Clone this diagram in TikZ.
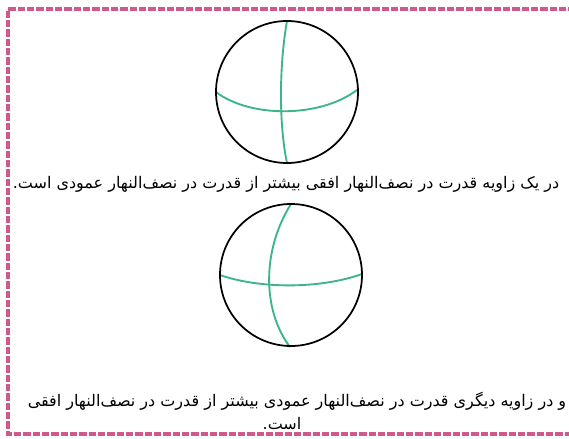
\documentclass[tikz,border=0pt]{standalone}
\usepackage{fontspec}
\TeXXeTstate=1
\newfontfamily\arabicfont[Script=Arabic]{DejaVu Sans}
\definecolor{framepink}{RGB}{206,90,140}
\definecolor{merid}{RGB}{60,180,140}
\tikzset{
  frameline/.style={draw=framepink, line width=2.4pt, dash pattern=on 5.5pt off 1.5pt},
  eyecircle/.style={draw=black, line width=1.3pt},
  meridian/.style={draw=merid, line width=1.4pt},
  caption/.style={font=\arabicfont\fontsize{12}{14}\selectfont, inner sep=0pt, text=black}
}
\begin{document}
\begin{tikzpicture}[x=0.75pt,y=-0.75pt]
\useasboundingbox[fill=white] (0,0) rectangle (569,439);
% frame
\coordinate (tl) at (8,9);
\coordinate (bl) at (8,434);
\coordinate (tr) at (585,9);
\coordinate (br) at (585,434);
\draw[frameline] (tr) -- (tl) -- (bl) -- (br);
% first circle
\coordinate (c1) at (287,92);
\coordinate (c1t) at (287,21);
\coordinate (c1b) at (287,163);
\coordinate (c1l) at (216,92);
\coordinate (c1r) at (357,90);
\draw[meridian] (c1t) .. controls (280,60) and (278,120) .. (c1b);
\draw[meridian] (c1l) .. controls (250,118) and (320,118) .. (c1r);
\draw[eyecircle] (c1) circle[radius=71];
% first caption
\node[caption] (t1) at (286,184) {\beginR در یک زاویه قدرت در نصف‌النهار افقی بیشتر از قدرت در نصف‌النهار عمودی است.\endR};
% second circle
\coordinate (c2) at (291,275);
\coordinate (c2t) at (291,204);
\coordinate (c2b) at (290,347);
\coordinate (c2l) at (220,275);
\coordinate (c2r) at (362,274);
\draw[meridian] (c2t) .. controls (262,250) and (262,310) .. (c2b);
\draw[meridian] (c2l) .. controls (260,289) and (320,289) .. (c2r);
\draw[eyecircle] (c2) circle[radius=71];
% second caption
\node[caption] (t2) at (297,401) {\beginR و در زاویه دیگری قدرت در نصف‌النهار عمودی بیشتر از قدرت در نصف‌النهار افقی\endR};
\node[caption] (t3) at (282,424) {\beginR است.\endR};
\end{tikzpicture}
\end{document}
